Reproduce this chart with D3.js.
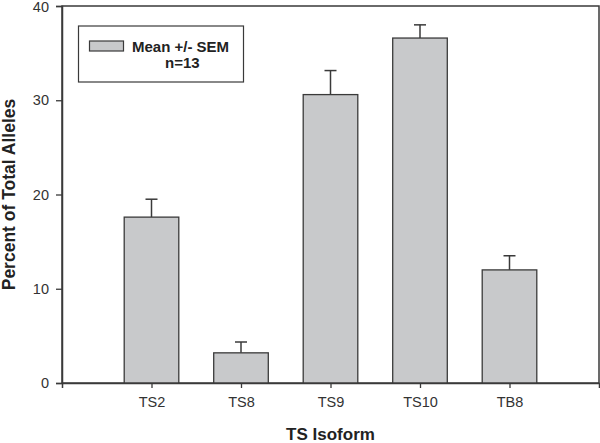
<!DOCTYPE html>
<html>
<head>
<meta charset="utf-8">
<script src="https://cdn.jsdelivr.net/npm/d3@7"></script>
<style>
	body { margin: 0; background: #fff; }
	svg { display: block; font-family: "Liberation Sans", Arial, sans-serif; }
</style>
</head>
<body>
<svg id="chart" width="600" height="443"></svg>
<script>
// data
const categories = ['TS2', 'TS8', 'TS9', 'TS10', 'TB8'];
const means = [17.6, 3.2, 30.6, 36.6, 12.0];
const sems = [1.9, 1.15, 2.55, 1.4, 1.5];
const yTicks = [0, 10, 20, 30, 40];
const legendLines = ['Mean +/- SEM', 'n=13'];

// configs
const BAR_FILL = '#c8c9cb';
const INK = '#3a3a3a';
const BAR_W = 0.61;   // in category units
const CAP_W = 12;

const svg = d3.select('#chart');
const margin = { top: 6, right: 1, bottom: 60, left: 62 };
const W = 600, H = 443;

const x = d3.scaleLinear()
	.domain([0, categories.length + 1])
	.range([margin.left, W - margin.right]);

const y = d3.scaleLinear()
	.domain([0, 40])
	.range([H - margin.bottom, margin.top]);

const data = categories.map((c, i) => ({ cat: c, pos: i + 1, mean: means[i], sem: sems[i] }));

// frame
svg.append('rect')
	.attr('x', x.range()[0])
	.attr('y', y.range()[1])
	.attr('width', x.range()[1] - x.range()[0])
	.attr('height', y.range()[0] - y.range()[1])
	.attr('fill', 'none')
	.attr('stroke', INK)
	.attr('stroke-width', 1.5);

// error bars (drawn first so the bar covers the lower half)
const err = svg.append('g').attr('class', 'errors')
	.attr('stroke', INK).attr('stroke-width', 1.5);

err.selectAll('line.stem')
	.data(data)
	.join('line')
	.attr('class', 'stem')
	.attr('x1', d => x(d.pos)).attr('x2', d => x(d.pos))
	.attr('y1', d => y(d.mean)).attr('y2', d => y(d.mean + d.sem));

err.selectAll('line.cap')
	.data(data)
	.join('line')
	.attr('class', 'cap')
	.attr('x1', d => x(d.pos) - CAP_W / 2).attr('x2', d => x(d.pos) + CAP_W / 2)
	.attr('y1', d => y(d.mean + d.sem)).attr('y2', d => y(d.mean + d.sem));

// bars
const bw = x(BAR_W) - x(0);
svg.append('g').attr('class', 'bars')
	.selectAll('rect')
	.data(data)
	.join('rect')
	.attr('x', d => x(d.pos) - bw / 2)
	.attr('y', d => y(d.mean))
	.attr('width', bw)
	.attr('height', d => y(0) - y(d.mean))
	.attr('fill', BAR_FILL)
	.attr('stroke', INK)
	.attr('stroke-width', 1.3);

// axes
const yAxis = svg.append('g')
	.attr('transform', `translate(${x.range()[0]},0)`)
	.call(d3.axisLeft(y).tickValues(yTicks).tickSize(6).tickPadding(7));

const xAxis = svg.append('g')
	.attr('transform', `translate(0,${y(0)})`)
	.call(d3.axisBottom(x).tickValues(data.map(d => d.pos))
		.tickFormat((d, i) => categories[i]).tickSize(5).tickPadding(9));

[yAxis, xAxis].forEach(a => {
	a.select('.domain').attr('stroke', INK).attr('stroke-width', 1.5);
	a.selectAll('.tick line').attr('stroke', INK).attr('stroke-width', 1.3);
	a.selectAll('.tick text')
		.attr('fill', '#333')
		.style('font-size', '14.5px')
		.style('font-family', '"Liberation Sans", Arial, sans-serif');
});

// keep the top tick label inside the picture
yAxis.selectAll('.tick text').filter(d => d === 40).attr('dy', '0.38em');

// axis titles
svg.append('text')
	.attr('x', (x.range()[0] + x.range()[1]) / 2)
	.attr('y', 440)
	.attr('text-anchor', 'middle')
	.attr('fill', '#222')
	.style('font-size', '17px')
	.style('font-weight', 'bold')
	.text('TS Isoform');

svg.append('text')
	.attr('transform', `translate(15,${(y.range()[0] + y.range()[1]) / 2}) rotate(-90)`)
	.attr('text-anchor', 'middle')
	.attr('fill', '#222')
	.style('font-size', '17.5px')
	.style('font-weight', 'bold')
	.text('Percent of Total Alleles');

// legend
const lg = svg.append('g').attr('class', 'legend');
lg.append('rect')
	.attr('x', 78.5).attr('y', 26)
	.attr('width', 165).attr('height', 56)
	.attr('fill', '#fff')
	.attr('stroke', INK)
	.attr('stroke-width', 1.2);

lg.append('rect')
	.attr('x', 89.5).attr('y', 41)
	.attr('width', 34).attr('height', 10)
	.attr('fill', BAR_FILL)
	.attr('stroke', INK)
	.attr('stroke-width', 1.2);

lg.selectAll('text')
	.data(legendLines)
	.join('text')
	.attr('x', (d, i) => i === 0 ? 132 : 165)
	.attr('y', (d, i) => i === 0 ? 52 : 68)
	.attr('fill', '#222')
	.style('font-size', '15px')
	.style('font-weight', 'bold')
	.text(d => d);
</script>
</body>
</html>
